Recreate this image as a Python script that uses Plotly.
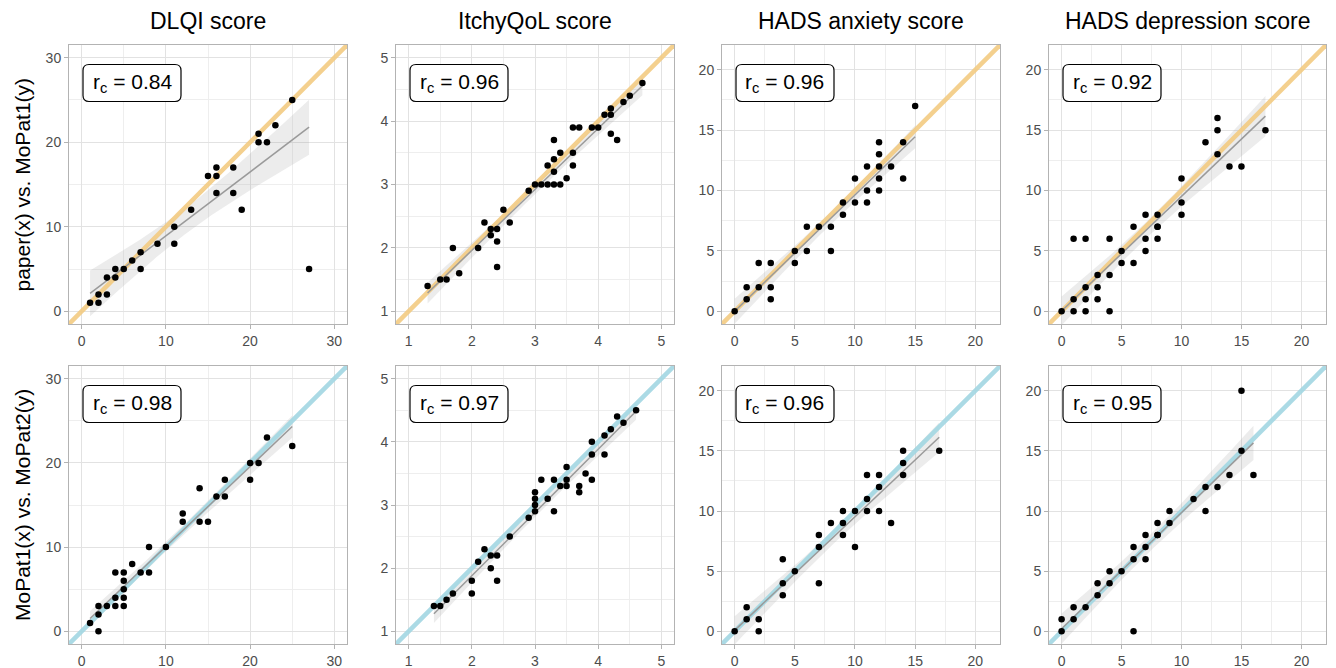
import numpy as np
import plotly.graph_objects as go

W, H = 1336, 668

# ---------------- data ----------------
titles = ["DLQI score", "ItchyQoL score", "HADS anxiety score", "HADS depression score"]
row_titles = ["paper(x) vs. MoPat1(y)", "MoPat1(x) vs. MoPat2(y)"]
rc_values = [["0.84", "0.96", "0.96", "0.92"], ["0.98", "0.97", "0.96", "0.95"]]

dlqi_paper = [1, 2, 2, 3, 3, 4, 4, 5, 6, 7, 7, 9, 11, 11, 13, 15, 16, 16, 16, 18, 18, 19, 21, 21, 22, 23, 25, 27]
dlqi_mopat1 = [1, 1, 2, 2, 4, 4, 5, 5, 6, 7, 5, 8, 10, 8, 12, 16, 17, 16, 14, 17, 14, 12, 21, 20, 20, 22, 25, 5]

itch_paper = [1.3, 1.5, 1.6, 1.7, 1.8, 2.1, 2.2, 2.3, 2.3, 2.4, 2.4, 2.4, 2.5, 2.6, 2.9, 3.0, 3.1, 3.2, 3.2,
              3.3, 3.3, 3.3, 3.3, 3.4, 3.4, 3.5, 3.6, 3.6, 3.6, 3.7, 3.9, 4.0, 4.1, 4.2, 4.2, 4.2, 4.3, 4.4, 4.5, 4.7]
itch_mopat1 = [1.4, 1.5, 1.5, 2.0, 1.6, 2.0, 2.4, 2.3, 2.2, 2.3, 2.1, 1.7, 2.6, 2.4, 2.9, 3.0, 3.0, 3.3, 3.0,
               3.7, 3.4, 3.2, 3.0, 3.5, 3.0, 3.1, 3.9, 3.5, 3.3, 3.9, 3.9, 3.9, 4.1, 4.2, 4.1, 3.8, 3.7, 4.3, 4.4, 4.6]

anx_paper = [0, 1, 1, 2, 2, 3, 3, 3, 5, 5, 6, 6, 7, 8, 8, 9, 9, 10, 10, 11, 11, 11, 12, 12, 12, 12, 12, 13, 14, 14, 15]
anx_mopat1 = [0, 1, 2, 2, 4, 4, 2, 1, 5, 4, 7, 5, 7, 7, 5, 9, 8, 11, 9, 12, 10, 9, 14, 13, 12, 11, 10, 12, 14, 11, 17]

dep_paper = [0, 1, 1, 1, 2, 2, 2, 2, 3, 3, 3, 4, 4, 4, 5, 5, 6, 6, 7, 7, 7, 8, 8, 8, 8, 10, 10, 10, 12, 13, 13, 13, 14, 15, 17]
dep_mopat1 = [0, 6, 1, 0, 6, 2, 1, 0, 3, 2, 1, 6, 3, 0, 5, 4, 7, 4, 8, 6, 5, 8, 7, 7, 6, 11, 9, 8, 14, 15, 16, 13, 12, 12, 15]

dlqi_m1 = [1, 2, 2, 2, 3, 4, 4, 4, 5, 5, 5, 5, 5, 6, 7, 8, 8, 10, 12, 12, 14, 14, 15, 16, 17, 17, 20, 20, 21, 22, 25]
dlqi_m2 = [1, 0, 2, 3, 3, 3, 4, 7, 3, 4, 5, 6, 7, 8, 7, 7, 10, 10, 14, 13, 17, 13, 13, 16, 16, 18, 20, 18, 20, 23, 22]

itch_m1 = [1.4, 1.5, 1.6, 1.7, 2.0, 2.0, 2.1, 2.2, 2.3, 2.3, 2.4, 2.4, 2.6, 2.9, 3.0, 3.0, 3.0, 3.0, 3.1,
           3.2, 3.3, 3.3, 3.4, 3.5, 3.5, 3.5, 3.7, 3.7, 3.8, 3.9, 3.9, 3.9, 4.1, 4.1, 4.2, 4.3, 4.4, 4.6]
itch_m2 = [1.4, 1.4, 1.5, 1.6, 1.6, 1.8, 2.1, 2.3, 2.2, 2.0, 2.2, 1.8, 2.5, 2.8, 3.2, 3.1, 3.0, 2.9, 3.4,
           3.1, 3.4, 2.9, 3.3, 3.6, 3.4, 3.3, 3.3, 3.2, 3.5, 4.0, 3.8, 3.4, 4.1, 3.8, 4.2, 4.4, 4.3, 4.5]

anx_m1 = [0, 1, 1, 2, 2, 4, 4, 4, 5, 7, 7, 7, 8, 9, 9, 9, 10, 10, 11, 11, 11, 12, 12, 12, 13, 14, 14, 14, 17]
anx_m2 = [0, 1, 2, 1, 0, 6, 4, 3, 5, 8, 7, 4, 9, 10, 9, 8, 10, 7, 13, 11, 10, 13, 12, 10, 9, 15, 14, 13, 15]

dep_m1 = [0, 0, 1, 1, 2, 3, 3, 4, 4, 5, 6, 6, 6, 7, 7, 7, 8, 8, 8, 9, 9, 11, 12, 12, 13, 14, 15, 15, 16]
dep_m2 = [0, 1, 1, 2, 2, 3, 4, 4, 5, 5, 6, 7, 0, 6, 7, 8, 8, 8, 9, 9, 10, 11, 12, 10, 12, 13, 15, 20, 13]

panels = [
    [(dlqi_paper, dlqi_mopat1), (itch_paper, itch_mopat1), (anx_paper, anx_mopat1), (dep_paper, dep_mopat1)],
    [(dlqi_m1, dlqi_m2), (itch_m1, itch_m2), (anx_m1, anx_m2), (dep_m1, dep_m2)],
]

# scale limits per column (score range) and tick spacing
limits = [(0, 30), (1, 5), (0, 21), (0, 21)]
tick_start = [0, 1, 0, 0]
tick_step = [10, 1, 5, 5]

# ---------------- layout geometry (pixels) ----------------
col_px = [(69, 347), (396, 674), (722, 1000), (1049, 1326)]
row_px = [(45, 324), (366, 644)]
diag_colors = ["#F3CB82", "#A2D7E3"]

FONT = "Liberation Sans, Arial, Helvetica, sans-serif"
GRID = "#E2E2E2"
MINOR = "#EEEEEE"
BORDER = "#B3B3B3"


def px2x(px):
    return px / W


def px2y(py):
    return 1 - py / H


def t975(df):
    return 1.959964 + 2.37 / df + 2.8 / df ** 2


fig = go.Figure()
shapes = []
annotations = []

for r in range(2):
    for c in range(4):
        k = r * 4 + c + 1
        xa = "x" if k == 1 else f"x{k}"
        ya = "y" if k == 1 else f"y{k}"
        xs, ys = panels[r][c]
        x = np.array(xs, float)
        y = np.array(ys, float)
        lo, hi = limits[c]
        pad = 0.05 * (hi - lo)
        rng = [lo - pad, hi + pad]

        # regression fit with 95% confidence band
        n = len(x)
        b, a = np.polyfit(x, y, 1)
        resid = y - (a + b * x)
        s = np.sqrt(np.sum(resid ** 2) / (n - 2))
        xbar = x.mean()
        sxx = np.sum((x - xbar) ** 2)
        xg = np.linspace(x.min(), x.max(), 80)
        yg = a + b * xg
        se = s * np.sqrt(1.0 / n + (xg - xbar) ** 2 / sxx)
        tq = t975(n - 2)
        upper = yg + tq * se
        lower = yg - tq * se

        fig.add_trace(go.Scatter(
            x=np.concatenate([xg, xg[::-1]]), y=np.concatenate([upper, lower[::-1]]),
            fill="toself", fillcolor="rgba(160,160,160,0.2)", line=dict(width=0),
            mode="lines", hoverinfo="skip", showlegend=False, xaxis=xa, yaxis=ya))
        fig.add_trace(go.Scatter(
            x=[rng[0], rng[1]], y=[rng[0], rng[1]], mode="lines",
            line=dict(color=diag_colors[r], width=4.5), opacity=0.9,
            hoverinfo="skip", showlegend=False, xaxis=xa, yaxis=ya))
        fig.add_trace(go.Scatter(
            x=xg, y=yg, mode="lines", line=dict(color="#9A9A9A", width=1.5),
            hoverinfo="skip", showlegend=False, xaxis=xa, yaxis=ya))
        fig.add_trace(go.Scatter(
            x=x, y=y, mode="markers", marker=dict(color="black", size=6.5),
            showlegend=False, xaxis=xa, yaxis=ya))

        x0, x1 = col_px[c]
        yt, yb = row_px[r]
        axis_common = dict(
            range=rng, tickmode="linear", tick0=tick_start[c], dtick=tick_step[c],
            showgrid=True, gridcolor=GRID, gridwidth=1, zeroline=False,
            showline=True, mirror=True, linecolor=BORDER, linewidth=1,
            ticks="outside", ticklen=4, tickcolor=BORDER, tickwidth=1,
            tickfont=dict(size=14, color="#4D4D4D", family=FONT),
            minor=dict(tick0=tick_start[c], dtick=tick_step[c] / 2, showgrid=True,
                       gridcolor=MINOR, gridwidth=1, ticks=""),
            fixedrange=True,
        )
        fig.update_layout(**{
            ("xaxis" if k == 1 else f"xaxis{k}"): dict(
                domain=[px2x(x0), px2x(x1)], anchor=ya, **axis_common),
            ("yaxis" if k == 1 else f"yaxis{k}"): dict(
                domain=[px2y(yb), px2y(yt)], anchor=xa, **axis_common),
        })

        # rounded label box
        bx0, by0 = x0 + 14, yt + 19.5
        bx1, by1 = bx0 + 98, by0 + 37
        rr = 6
        pts = [("M", bx0 + rr, by0), ("L", bx1 - rr, by0), ("Q", bx1, by0, bx1, by0 + rr),
               ("L", bx1, by1 - rr), ("Q", bx1, by1, bx1 - rr, by1), ("L", bx0 + rr, by1),
               ("Q", bx0, by1, bx0, by1 - rr), ("L", bx0, by0 + rr), ("Q", bx0, by0, bx0 + rr, by0)]
        path = ""
        for p in pts:
            cmd = p[0]
            coords = p[1:]
            seg = []
            for i in range(0, len(coords), 2):
                seg.append(f"{px2x(coords[i]):.6f},{px2y(coords[i + 1]):.6f}")
            path += cmd + " " + " ".join(seg) + " "
        path += "Z"
        shapes.append(dict(type="path", path=path, xref="paper", yref="paper",
                           fillcolor="white", line=dict(color="black", width=1.2), layer="above"))
        annotations.append(dict(
            x=px2x((bx0 + bx1) / 2), y=px2y((by0 + by1) / 2), xref="paper", yref="paper",
            text=f"r<sub>c</sub> = {rc_values[r][c]}", showarrow=False,
            xanchor="center", yanchor="middle",
            font=dict(size=21, color="black", family=FONT)))

# column titles
for c in range(4):
    x0, x1 = col_px[c]
    annotations.append(dict(
        x=px2x((x0 + x1) / 2), y=px2y(21), xref="paper", yref="paper", text=titles[c],
        showarrow=False, xanchor="center", yanchor="middle",
        font=dict(size=23, color="black", family=FONT)))

# row titles
for r in range(2):
    yt, yb = row_px[r]
    annotations.append(dict(
        x=px2x(22), y=px2y((yt + yb) / 2), xref="paper", yref="paper", text=row_titles[r],
        showarrow=False, textangle=-90, xanchor="center", yanchor="middle",
        font=dict(size=21, color="black", family=FONT)))

fig.update_layout(
    width=W, height=H, margin=dict(l=0, r=0, t=0, b=0),
    paper_bgcolor="white", plot_bgcolor="white",
    shapes=shapes, annotations=annotations, showlegend=False,
    font=dict(family=FONT),
)

fig.write_html("out.html", config={"displayModeBar": False})
